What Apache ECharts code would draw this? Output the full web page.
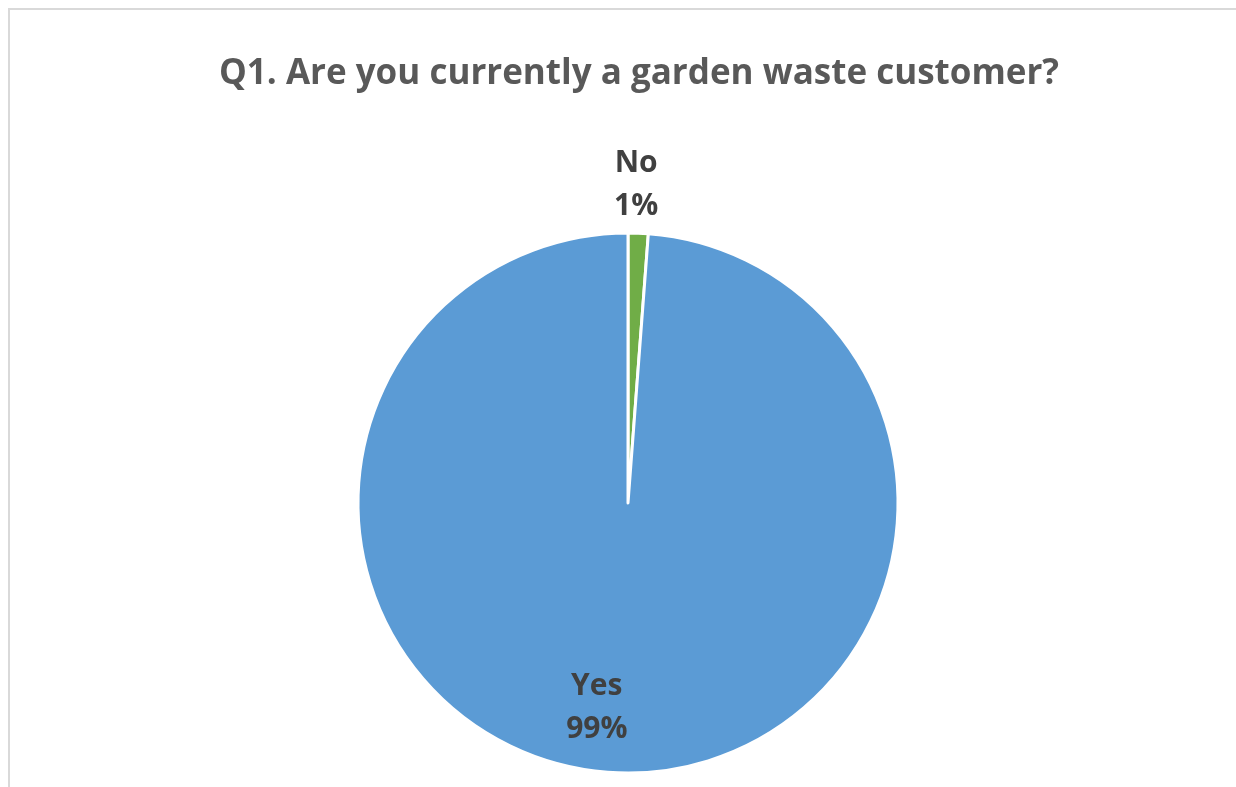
<!DOCTYPE html>
<html>
<head>
<meta charset="utf-8">
<script src="https://cdn.jsdelivr.net/npm/echarts@6/dist/echarts.min.js"></script>
<style>
  html, body { margin: 0; padding: 0; background: #fff; }
  #frame { position: absolute; left: 8px; top: 8px; width: 1240px; height: 800px;
           border-top: 2px solid #d9d9d9; border-left: 2px solid #d9d9d9; box-sizing: border-box; }
  #chart { position: absolute; left: 0; top: 0; width: 1236px; height: 787px; }
</style>
</head>
<body>
<div id="frame"></div>
<div id="chart"></div>
<script>
const titleText = 'Q1. Are you currently a garden waste customer?';
const categories = ['No', 'Yes'];
const values = [1.2, 98.8];
const colors = ['#70AD47', '#5B9BD5'];

const chart = echarts.init(document.getElementById('chart'), null, { renderer: 'canvas' });
const data = categories.map((c, i) => ({
  name: c, value: values[i], itemStyle: { color: colors[i] },
  label: { position: i === 0 ? 'outside' : 'inside' }
}));

chart.setOption({
  backgroundColor: 'transparent',
  animation: false,
  title: {
    text: titleText,
    left: 634,
    top: 52,
    textAlign: 'center',
    textStyle: { fontFamily: 'Open Sans', fontWeight: 'bold', fontSize: 35, color: '#595959' }
  },
  series: [{
    type: 'pie',
    center: [628, 503],
    radius: [0, 270],
    startAngle: 90,
    clockwise: true,
    avoidLabelOverlap: false,
    data: data,
    itemStyle: { borderColor: '#ffffff', borderWidth: 3 },
    labelLine: { show: false, length: 0, length2: 0 },
    label: {
      show: true,
      formatter: p => p.name + '\n' + Math.round(p.percent) + '%',
      fontFamily: 'Open Sans',
      fontWeight: 'bold',
      fontSize: 30,
      lineHeight: 43,
      color: '#404040'
    },
    labelLayout: function (p) {
      if (p.dataIndex === 0) {
        return { align: 'center', verticalAlign: 'bottom', dx: -7, dy: -5 };
      }
      return { align: 'center', dx: -26, dy: 67 };
    }
  }]
});
</script>
</body>
</html>
